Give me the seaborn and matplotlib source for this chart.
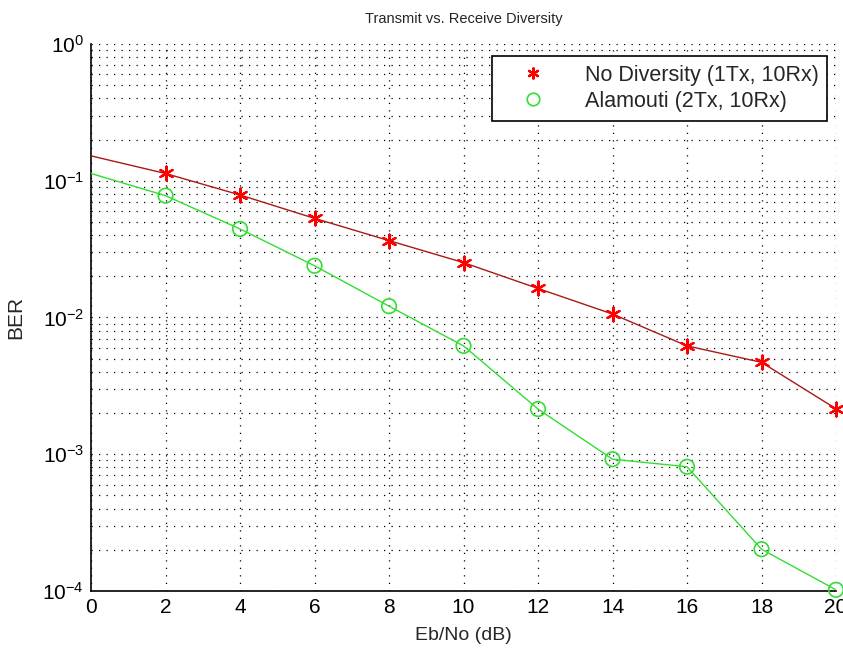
import matplotlib
matplotlib.use("Agg")
import matplotlib.pyplot as plt
import seaborn as sns
import numpy as np
import pandas as pd
from matplotlib.lines import Line2D
from matplotlib.ticker import LogLocator, FixedLocator

ebno = [0, 2, 4, 6, 8, 10, 12, 14, 16, 18, 20]
ber_nodiv = [0.152, 0.113, 0.0787, 0.0531, 0.0365, 0.0252, 0.0163, 0.0106, 0.0062, 0.0047, 0.00215]
ber_alamouti = [0.113, 0.0778, 0.0444, 0.0239, 0.0121, 0.0062, 0.00214, 0.00092, 0.00081, 0.000202, 0.000102]
labels = ["No Diversity (1Tx, 10Rx)", "Alamouti (2Tx, 10Rx)"]
xticks = [0, 2, 4, 6, 8, 10, 12, 14, 16, 18, 20]

sns.set_style("white")
plt.rcParams['font.family'] = ['Liberation Sans', 'DejaVu Sans']

df1 = pd.DataFrame({"x": ebno, "y": ber_nodiv})
df2 = pd.DataFrame({"x": ebno, "y": ber_alamouti})

fig = plt.figure(figsize=(8.43, 6.5), dpi=100)
ax = fig.add_axes([0.108, 0.0908, 0.8837, 0.8415])

line_red = '#a81818'
mark_red = '#ff0000'
green = '#33dd33'

sns.lineplot(data=df1, x="x", y="y", ax=ax, color=line_red, linewidth=1.0, zorder=3)
sns.lineplot(data=df2, x="x", y="y", ax=ax, color=green, linewidth=1.0, zorder=3)
sns.scatterplot(data=df1.iloc[1:], x="x", y="y", ax=ax, marker=(6, 2, 0), s=100,
                color=mark_red, edgecolor=mark_red, linewidth=1.6, zorder=4, clip_on=False)
sns.scatterplot(data=df2.iloc[1:], x="x", y="y", ax=ax, marker='o', s=110,
                facecolor='none', edgecolor=green, linewidth=1.2, zorder=4, clip_on=False)

ax.set_yscale('log')
ax.set_xlim(0, 20)
ax.set_ylim(1e-4, 1)
ax.xaxis.set_major_locator(FixedLocator(xticks))
ax.yaxis.set_major_locator(LogLocator(base=10, numticks=10))
ax.yaxis.set_minor_locator(LogLocator(base=10, subs=np.arange(2, 10), numticks=20))

grid_kw = dict(color='black', linestyle=(0, (1, 5)), linewidth=0.9)
ax.grid(True, which='major', axis='both', **grid_kw)
ax.grid(True, which='minor', axis='y', **grid_kw)

for s in ['top', 'right']:
    ax.spines[s].set_visible(False)
for s in ['left', 'bottom']:
    ax.spines[s].set_color('black')
    ax.spines[s].set_linewidth(1.2)

ax.tick_params(axis='both', which='major', direction='in', length=8, width=1, labelsize=15, colors='black', pad=5)
ax.tick_params(axis='y', which='minor', direction='in', length=5, width=1)
ax.tick_params(axis='x', which='minor', bottom=False)

ax.set_title("Transmit vs. Receive Diversity", fontsize=10.5, pad=15)
ax.set_xlabel("Eb/No (dB)", fontsize=14, labelpad=7)
ax.set_ylabel("BER", fontsize=15, labelpad=12)

handles = [
    Line2D([], [], linestyle='none', marker=(6, 2, 0), markersize=8.5, color=mark_red, markeredgewidth=1.6),
    Line2D([], [], linestyle='none', marker='o', markersize=9, markerfacecolor='none', markeredgecolor=green, markeredgewidth=1.2),
]
leg = ax.legend(handles, labels, loc='upper right', bbox_to_anchor=(0.988, 0.978), borderaxespad=0,
                fontsize=15.5, frameon=True, fancybox=False, edgecolor='black', framealpha=1,
                handlelength=3.0, handletextpad=0.9, borderpad=0.4, labelspacing=0.25)
leg.get_frame().set_linewidth(1.2)

fig.savefig("out.png", dpi=100)
